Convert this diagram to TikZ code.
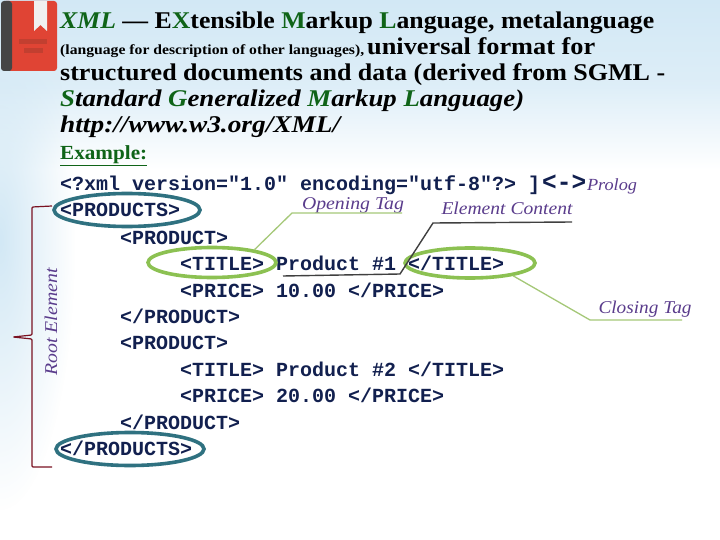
\documentclass[tikz,border=0pt]{standalone}
\usepackage{fontspec}
\usepackage{graphicx}
\usetikzlibrary{shapes.geometric,fadings}
\setmainfont{Liberation Serif}
\setmonofont{Liberation Mono}
\definecolor{gr}{HTML}{0F6418}
\definecolor{navy}{HTML}{12204F}
\definecolor{teal1}{HTML}{2F7180}
\definecolor{lime}{HTML}{8CC152}
\definecolor{limeline}{HTML}{A5C878}
\definecolor{brk}{HTML}{7A1222}
\definecolor{purp}{HTML}{5A3C8C}
\definecolor{sky}{HTML}{D2E8F5}
\definecolor{bookred}{HTML}{E04434}
\definecolor{bookline}{HTML}{C23F30}
\definecolor{bookdark}{HTML}{454545}
\newcommand\fitw[2]{\sbox0{#2}\pgfmathsetmacro\fitr{#1/\the\wd0}\scalebox{\fitr}[1]{\usebox0}}
\newcommand\gl[1]{\textcolor{gr}{#1}}
\tikzfading[name=softedge,inner color=transparent!0,middle color=transparent!10,outer color=transparent!100]
\tikzset{
  x=1pt,y=-1pt,
  headline/.style={anchor=base west,inner sep=0pt,text=black,font=\fontsize{24}{24}\selectfont\bfseries},
  code/.style={anchor=base west,inner sep=0pt,text=navy,font=\fontsize{20}{20}\selectfont\ttfamily\bfseries},
  tagname/.style={inner sep=0pt,text=purp,font=\fontsize{18}{18}\selectfont\itshape},
  rootring/.style={draw=teal1,line width=3.6pt,ellipse,inner sep=0pt,minimum width=146pt,minimum height=33pt},
  tagring/.style={draw=lime,line width=3.6pt,ellipse,inner sep=0pt,minimum width=128pt,minimum height=30pt},
  leader/.style={draw=limeline,line width=1.3pt},
  darkleader/.style={draw=black!75,line width=1.4pt},
  bracket/.style={draw=brk,line width=1.2pt},
}
\begin{document}
\begin{tikzpicture}
\useasboundingbox (0,0) rectangle (720,540);
% background
\fill[white] (0,0) rectangle (720,540);
\shade[top color=sky,bottom color=white,middle color=sky!75!white] (0,0) rectangle (720,170);
\begin{scope}
\clip (0,0) rectangle (720,540);
\fill[sky,path fading=softedge] (0,240) ellipse [x radius=75,y radius=270];
\end{scope}
% book icon
\fill[bookred,rounded corners=3pt] (3,1) rectangle (57,71);
\fill[bookdark,rounded corners=3pt] (1,1) rectangle (12,71);
\fill[bookdark] (8,1) rectangle (10,71);
\fill[black!6] (34,1) -- (47,1) -- (47,31) -- (40.5,25) -- (34,31) -- cycle;
\fill[bookline] (19,39) rectangle (47,44);
\fill[bookline] (24,48) rectangle (43,53);
% headline
\node[headline] (h1) at (60,29) {\fitw{594}{\gl{\textit{XML}} — E\gl{X}tensible \gl{M}arkup \gl{L}anguage, metalanguage}};
\node[headline,font=\fontsize{14}{14}\selectfont\bfseries] (h2a) at (60,55) {\fitw{304}{(language for description of other languages),}};
\node[headline] (h2b) at (367,55) {\fitw{228}{universal format for}};
\node[headline] (h3) at (60,81) {\fitw{605}{structured documents and data (derived from SGML -}};
\node[headline,font=\fontsize{24}{24}\selectfont\bfseries\itshape] (h4) at (60,107) {\fitw{464}{\gl{S}tandard \gl{G}eneralized \gl{M}arkup \gl{L}anguage)}};
\node[headline,font=\fontsize{24}{24}\selectfont\bfseries\itshape] (h5) at (60,133) {\fitw{280}{http://www.w3.org/XML/}};
\node[headline,text=gr,font=\fontsize{20}{20}\selectfont\bfseries] (ex) at (60,160) {\fitw{87}{\underline{Example:}}};
% code
\node[code] (c0) at (60,191) {<?xml version="1.0" encoding="utf-8"?>};
\node[code] (c0b) at (528,191) {]};
\node[code,font=\fontsize{26}{26}\selectfont\ttfamily\bfseries] (c0c) at (542,191) {\fitw{44}{<->}};
\node[code] (c1) at (60,217) {<PRODUCTS>};
\node[code] (c2) at (120,244) {<PRODUCT>};
\node[code] (c3) at (180,270) {<TITLE>};
\node[code] (c3b) at (276,270) {Product \#1};
\node[code] (c3c) at (408,270) {</TITLE>};
\node[code] (c4) at (180,297) {<PRICE> 10.00 </PRICE>};
\node[code] (c5) at (120,323) {</PRODUCT>};
\node[code] (c6) at (120,349) {<PRODUCT>};
\node[code] (c7) at (180,376) {<TITLE> Product \#2 </TITLE>};
\node[code] (c8) at (180,402) {<PRICE> 20.00 </PRICE>};
\node[code] (c9) at (120,429) {</PRODUCT>};
\node[code] (c10) at (60,455) {</PRODUCTS>};
% rings
\node[rootring] (r1) at (127,210) {};
\node[rootring,minimum width=148pt] (r2) at (130,449) {};
\node[tagring] (t1) at (212,262.5) {};
\node[tagring,minimum width=130pt] (t2) at (470,263) {};
% labels
\node[tagname,font=\fontsize{17}{17}\selectfont\itshape] (prolog) at (612,186) {\fitw{50}{Prolog}};
\node[tagname] (lo) at (353,205) {\fitw{102}{Opening Tag}};
\node[tagname] (le) at (507,208) {\fitw{131}{Element Content}};
\node[tagname] (lc) at (645,309) {\fitw{93}{Closing Tag}};
\node[tagname,rotate=90] (lr) at (51,322) {\fitw{107}{Root Element}};
% leader corners
\coordinate (o1) at (292,213); \coordinate (o2) at (402,213);
\coordinate (e0) at (283,276); \coordinate (e1) at (400,274); \coordinate (e2) at (433,223); \coordinate (e3) at (572,222);
\coordinate (c1x) at (590,320); \coordinate (c2x) at (682,320);
\coordinate (ba) at (52,206); \coordinate (bb) at (32,207); \coordinate (bm) at (32,335); \coordinate (bt) at (13,337); \coordinate (bc) at (32,339); \coordinate (bd) at (32,467); \coordinate (be) at (52,467);
\draw[leader] (t1.north east) ++(-4,-1) -- (o1) -- (o2);
\draw[darkleader] (e0) -- (e1) -- (e2) -- (e3);
\draw[leader] (t2.south east) ++(-4,1) -- (c1x) -- (c2x);
\draw[bracket,rounded corners=1pt] (ba) -- (bb) -- (bm) -- (bt) -- (bc) -- (bd) -- (be);
\end{tikzpicture}
\end{document}
